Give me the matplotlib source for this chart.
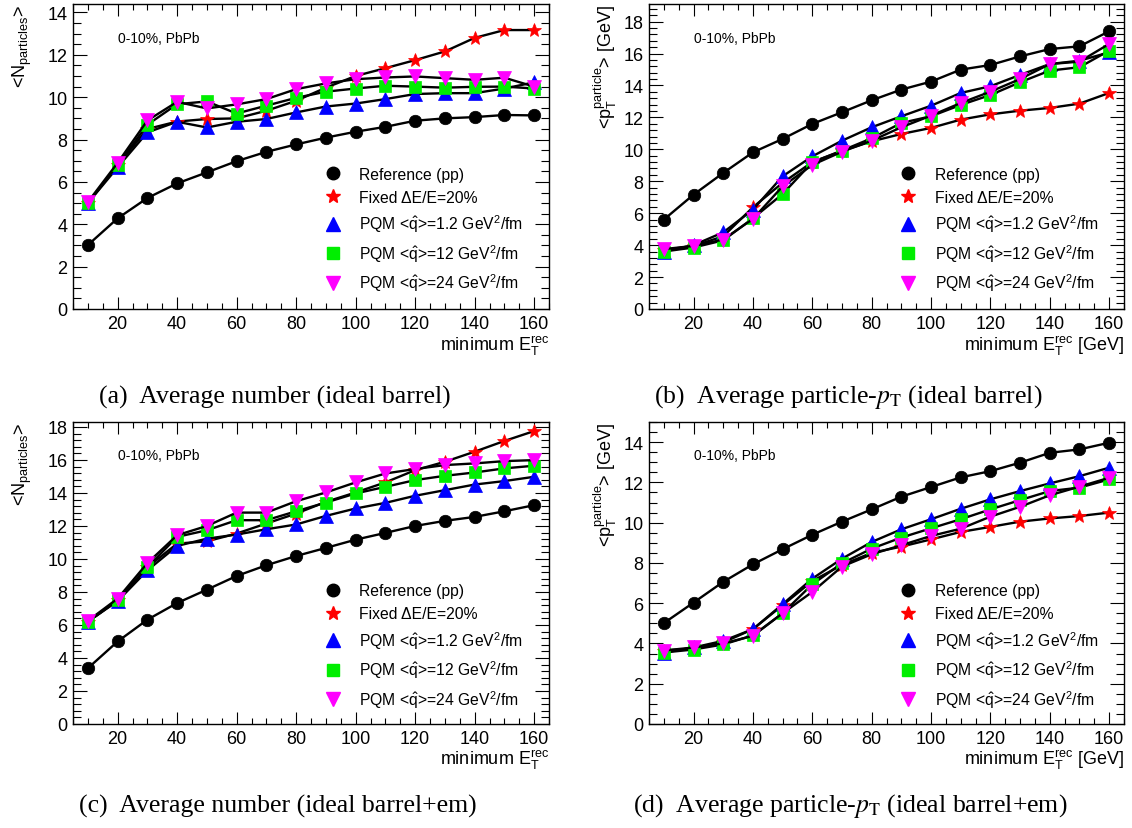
import matplotlib
matplotlib.use('Agg')
import matplotlib.pyplot as plt
from matplotlib.lines import Line2D
from matplotlib.ticker import MultipleLocator

plt.rcParams['font.family'] = ['Liberation Sans', 'DejaVu Sans']
plt.rcParams['mathtext.fontset'] = 'custom'
plt.rcParams['mathtext.rm'] = 'Liberation Sans'
plt.rcParams['mathtext.it'] = 'Liberation Sans:italic'
plt.rcParams['mathtext.bf'] = 'Liberation Sans:bold'

# minimum reconstructed E_T (GeV)
e_min = [10, 20, 30, 40, 50, 60, 70, 80, 90, 100, 110, 120, 130, 140, 150, 160]

# (a) average number, ideal barrel
nb_ref = [3.02, 4.28, 5.24, 5.93, 6.45, 6.98, 7.42, 7.77, 8.09, 8.37, 8.6, 8.89, 9.0, 9.06, 9.16, 9.14]
nb_fix = [5.0, 6.8, 8.5, 8.85, 8.97, 9.0, 9.36, 9.83, 10.45, 11.0, 11.37, 11.75, 12.16, 12.8, 13.17, 13.17]
nb_q1 = [5.0, 6.69, 8.34, 8.84, 8.57, 8.84, 8.97, 9.28, 9.56, 9.7, 9.91, 10.15, 10.19, 10.19, 10.41, 10.7]
nb_q12 = [5.0, 6.8, 8.7, 9.67, 9.8, 9.23, 9.6, 9.97, 10.26, 10.41, 10.54, 10.5, 10.45, 10.49, 10.5, 10.41]
nb_q24 = [5.05, 6.9, 8.9, 9.78, 9.47, 9.66, 9.91, 10.38, 10.65, 10.85, 10.93, 10.98, 10.9, 10.82, 10.92, 10.5]

# (b) average particle pT, ideal barrel
pb_ref = [5.6, 7.16, 8.52, 9.81, 10.65, 11.59, 12.32, 13.07, 13.74, 14.24, 14.99, 15.28, 15.82, 16.28, 16.45, 17.39]
pb_fix = [3.7, 3.95, 4.55, 6.37, 7.9, 9.2, 9.9, 10.5, 10.96, 11.34, 11.86, 12.19, 12.42, 12.59, 12.86, 13.53]
pb_q1 = [3.6, 4.0, 4.8, 6.22, 8.31, 9.56, 10.54, 11.38, 12.07, 12.73, 13.53, 13.95, 14.66, 15.34, 15.55, 16.07]
pb_q12 = [3.6, 3.85, 4.3, 5.68, 7.2, 9.19, 9.92, 10.69, 11.65, 12.07, 12.78, 13.4, 14.2, 14.93, 15.14, 16.18]
pb_q24 = [3.75, 3.95, 4.35, 5.64, 7.68, 9.02, 9.85, 10.54, 11.38, 12.11, 12.9, 13.61, 14.4, 15.34, 15.49, 16.6]

# (c) average number, ideal barrel+em
ne_ref = [3.38, 5.0, 6.32, 7.33, 8.14, 8.97, 9.62, 10.18, 10.67, 11.17, 11.58, 12.0, 12.31, 12.55, 12.89, 13.26]
ne_fix = [6.2, 7.5, 9.5, 10.93, 11.07, 11.54, 12.15, 12.75, 13.46, 14.03, 14.64, 15.38, 15.89, 16.5, 17.15, 17.75]
ne_q1 = [6.2, 7.45, 9.31, 10.79, 11.23, 11.48, 11.8, 12.09, 12.61, 13.06, 13.4, 13.83, 14.17, 14.51, 14.72, 14.98]
ne_q12 = [6.2, 7.5, 9.5, 11.34, 11.74, 12.35, 12.35, 12.89, 13.42, 13.97, 14.37, 14.78, 15.04, 15.24, 15.49, 15.65]
ne_q24 = [6.25, 7.6, 9.75, 11.44, 12.0, 12.81, 12.81, 13.5, 14.03, 14.64, 15.18, 15.45, 15.69, 15.79, 15.93, 15.99]

# (d) average particle pT, ideal barrel+em
pe_ref = [5.01, 6.03, 7.06, 7.93, 8.68, 9.4, 10.05, 10.66, 11.29, 11.77, 12.25, 12.56, 12.98, 13.47, 13.64, 13.97]
pe_fix = [3.65, 3.75, 4.05, 4.71, 5.9, 7.1, 7.9, 8.5, 8.81, 9.17, 9.54, 9.79, 10.05, 10.21, 10.33, 10.5]
pe_q1 = [3.55, 3.8, 4.13, 4.71, 5.95, 7.22, 8.21, 9.04, 9.67, 10.17, 10.69, 11.16, 11.57, 11.95, 12.31, 12.73]
pe_q12 = [3.55, 3.7, 3.95, 4.4, 5.5, 6.94, 7.98, 8.71, 9.26, 9.72, 10.17, 10.66, 11.12, 11.57, 11.74, 12.15]
pe_q24 = [3.65, 3.8, 4.0, 4.38, 5.5, 6.56, 7.82, 8.43, 8.88, 9.34, 9.7, 10.3, 10.79, 11.36, 11.79, 12.23]

labels = ['Reference (pp)', 'Fixed \u0394E/E=20%',
          r'PQM <$\hat{\mathrm{q}}$>=1.2 GeV$^{2}$/fm',
          r'PQM <$\hat{\mathrm{q}}$>=12 GeV$^{2}$/fm',
          r'PQM <$\hat{\mathrm{q}}$>=24 GeV$^{2}$/fm']
markers = ['o', '*', '^', 's', 'v']
colors = ['black', 'red', 'blue', '#00ee00', 'magenta']
msizes = [9, 10, 10, 8, 10.5]

W, H = 1132, 829
fig = plt.figure(figsize=(W / 100, H / 100), dpi=100)


def panel(rect, series, ymax, yminor, xlab):
    l, b, r, t = rect
    ax = fig.add_axes([l / W, 1 - b / H, (r - l) / W, (b - t) / H])
    for y, m, c, s in zip(series, markers, colors, msizes):
        ax.plot(e_min, y, color='black', lw=1.7, marker=m, ms=s,
                mfc=c, mec=c, mew=0.5)
    ax.set_xlim(5, 165)
    ax.set_ylim(0, ymax)
    ax.xaxis.set_major_locator(MultipleLocator(20))
    ax.xaxis.set_minor_locator(MultipleLocator(5))
    ax.yaxis.set_major_locator(MultipleLocator(2))
    ax.yaxis.set_minor_locator(MultipleLocator(yminor))
    ax.tick_params(which='both', direction='in', top=True, right=True,
                   labelsize=13, width=0.8, pad=4)
    ax.tick_params(axis='x', which='major', length=8.5)
    ax.tick_params(axis='x', which='minor', length=4.5)
    ax.tick_params(axis='y', which='major', length=10)
    ax.tick_params(axis='y', which='minor', length=5.5)
    for sp in ax.spines.values():
        sp.set_linewidth(1.0)
    ax.text(0.094, 0.89, '0-10%, PbPb', transform=ax.transAxes,
            fontsize=10, va='center', ha='left')
    handles = [Line2D([], [], ls='none', marker=m, ms=s, mfc=c, mec=c)
               for m, c, s in zip(markers, colors, msizes)]
    ax.legend(handles, labels, loc='upper left', bbox_to_anchor=(0.529, 0.466),
              frameon=False, fontsize=11.3, handlelength=1.0,
              handletextpad=1.2, labelspacing=0.5, borderpad=0,
              borderaxespad=0)
    ax.text(1.0, -0.118, xlab, transform=ax.transAxes, fontsize=13,
            ha='right', va='center')
    return ax


xlab_n = r'minimum E$_{\mathrm{T}}^{\mathrm{rec}}$'
xlab_p = r'minimum E$_{\mathrm{T}}^{\mathrm{rec}}$ [GeV]'

panel((73, 310, 549, 5), [nb_ref, nb_fix, nb_q1, nb_q12, nb_q24], 14.4, 0.5, xlab_n)
panel((649, 310, 1124, 5), [pb_ref, pb_fix, pb_q1, pb_q12, pb_q24], 19.1, 0.4, xlab_p)
panel((73, 725, 549, 423), [ne_ref, ne_fix, ne_q1, ne_q12, ne_q24], 18.3, 0.4, xlab_n)
panel((649, 725, 1124, 423), [pe_ref, pe_fix, pe_q1, pe_q12, pe_q24], 15.0, 0.5, xlab_p)

ylab_n = r'<N$_{\mathrm{particles}}$>'
ylab_p = r'<p$_{\mathrm{T}}^{\mathrm{particle}}$> [GeV]'
fig.text(22 / W, 1 - 5 / H, ylab_n, rotation=90, ha='center', va='top', fontsize=13)
fig.text(605 / W, 1 - 5 / H, ylab_p, rotation=90, ha='center', va='top', fontsize=13)
fig.text(22 / W, 1 - 423 / H, ylab_n, rotation=90, ha='center', va='top', fontsize=13)
fig.text(605 / W, 1 - 423 / H, ylab_p, rotation=90, ha='center', va='top', fontsize=13)

cap = dict(family='Liberation Serif', fontsize=18.5, ha='center', va='center',
           math_fontfamily='stix')
fig.text(275 / W, 1 - 397 / H, '(a)  Average number (ideal barrel)', **cap)
fig.text(848 / W, 1 - 397 / H, r'(b)  Average particle-$p_{\mathrm{T}}$ (ideal barrel)', **cap)
fig.text(278 / W, 1 - 806 / H, '(c)  Average number (ideal barrel+em)', **cap)
fig.text(850 / W, 1 - 806 / H, r'(d)  Average particle-$p_{\mathrm{T}}$ (ideal barrel+em)', **cap)

fig.savefig('out.png', dpi=100)
